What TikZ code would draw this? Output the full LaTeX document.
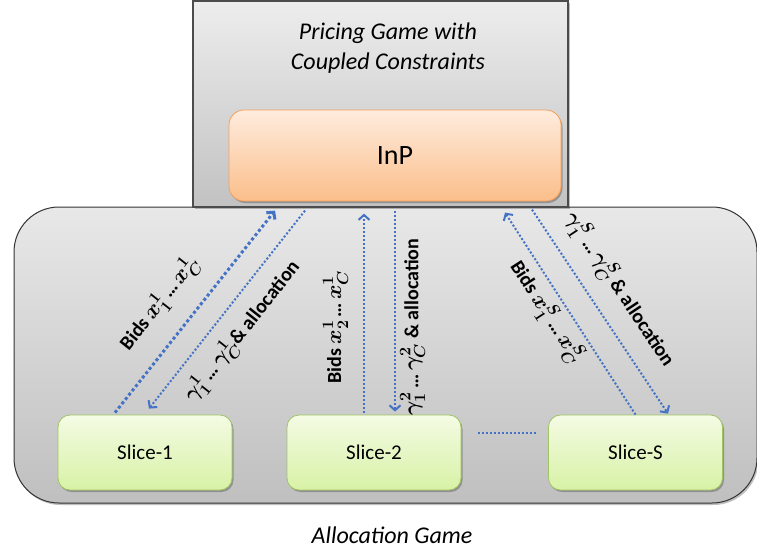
\RequirePackage{fix-cm}
\documentclass[tikz,border=0pt]{standalone}
\usepackage{fontspec}
\setmainfont{Carlito}
\usetikzlibrary{arrows.meta,shadows}
\DeclareMathSizes{20}{22}{16}{12}

\definecolor{msgblue}{RGB}{68,114,196}
\definecolor{slicetop}{RGB}{244,251,228}
\definecolor{slicebot}{RGB}{216,242,166}
\definecolor{sliceedge}{RGB}{160,196,100}
\definecolor{inptop}{RGB}{254,236,222}
\definecolor{inpbot}{RGB}{251,190,138}
\definecolor{inpedge}{RGB}{244,160,90}

\tikzset{
    softshadow/.style={drop shadow={shadow xshift=1.5pt, shadow yshift=-2pt, opacity=0.25, fill=black}},
    areabox/.style={draw=black!80, line width=1pt, rounded corners=45pt,
        top color=black!9, bottom color=black!25, softshadow},
    gamebox/.style={draw=black!70, line width=1.2pt,
        top color=black!7, bottom color=black!24, softshadow},
    inpbox/.style={draw=inpedge, line width=0.8pt, rounded corners=15pt,
        top color=inptop, bottom color=inpbot, softshadow,
        font=\fontsize{28}{32}\selectfont},
    slicebox/.style={draw=sliceedge, line width=0.8pt, rounded corners=12pt,
        top color=slicetop, bottom color=slicebot, softshadow,
        minimum width=174pt, minimum height=75pt,
        font=\fontsize{21}{24}\selectfont},
    msg/.style={draw=msgblue, line width=2pt, dash pattern=on 2pt off 2pt,
        -{Straight Barb[length=5pt,width=11pt]}},
    msgup/.style={msg, {Straight Barb[length=5pt,width=11pt]}-},
    lbl/.style={sloped, inner sep=0pt, font=\fontsize{20}{24}\selectfont\bfseries\boldmath},
    title/.style={font=\fontsize{24}{30}\selectfont\itshape, align=center}
}

\begin{document}
\begin{tikzpicture}[x=1pt, y=-1pt]
    \useasboundingbox (0,0) rectangle (757,554);
    % lower game
    \node[areabox, minimum width=743pt, minimum height=296pt] (area) at (385.5,355) {};
    \node[title] (alloc) at (392,535) {Allocation Game};
    % upper game
    \node[gamebox, minimum width=375pt, minimum height=206pt] (game) at (380.5,104) {};
    \node[title] (pricing) at (388,48) {Pricing Game with\\Coupled Constraints};
    \node[inpbox, minimum width=332pt, minimum height=91pt] (inp) at (395,155.5) {InP};
    % slices
    \node[slicebox] (slice1) at (145,452.5) {Slice-1};
    \node[slicebox] (slice2) at (374,452.5) {Slice-2};
    \node[slicebox] (sliceS) at (635.5,452.5) {Slice-S};
    \draw[draw=msgblue, line width=2pt, dash pattern=on 2pt off 2pt]
        ([xshift=17pt,yshift=19.5pt]slice2.east) -- ([xshift=-11pt,yshift=19.5pt]sliceS.west);
    % bids and prices
    \draw[msg, line width=3pt, dash pattern=on 3pt off 2.5pt]
        ([xshift=-30pt,yshift=2pt]slice1.north)
        -- node[lbl, pos=0.44, above=19pt] {Bids $x_1^1$\,…\,$x_C^1$}
        ([xshift=-105.5pt,yshift=-3pt]game.south);
    \draw[msg] ([xshift=-75.5pt,yshift=-3pt]game.south)
        -- node[lbl, pos=0.53, below=12pt] {$\gamma_1^1$\,…\,$\gamma_C^1$\& allocation}
        ([xshift=4pt,yshift=6pt]slice1.north);
    \draw[msg] ([xshift=-10pt,yshift=2pt]slice2.north)
        -- node[lbl, pos=0.43, above=15pt] {Bids $x_2^1$\,…\,$x_C^1$}
        ([xshift=-16.5pt,yshift=-6pt]game.south);
    \draw[msgup] ([xshift=21pt,yshift=3pt]slice2.north)
        -- node[lbl, pos=0.42, below=4pt] {$\gamma_1^2$\,…\,$\gamma_C^2$ \& allocation}
        ([xshift=14.5pt,yshift=-3pt]game.south);
    \draw[msg] ([xshift=0pt,yshift=0pt]sliceS.north)
        -- node[lbl, pos=0.56, below=5pt] {Bids $x_1^S$\,…\,$x_C^S$}
        ([xshift=124.5pt,yshift=-5pt]game.south);
    \draw[msg] ([xshift=151.5pt,yshift=-2pt]game.south)
        -- node[lbl, pos=0.47, above=15pt] {$\gamma_1^S$\,…\,$\gamma_C^S$ \& allocation}
        ([xshift=32.5pt,yshift=1pt]sliceS.north);
\end{tikzpicture}
\end{document}
